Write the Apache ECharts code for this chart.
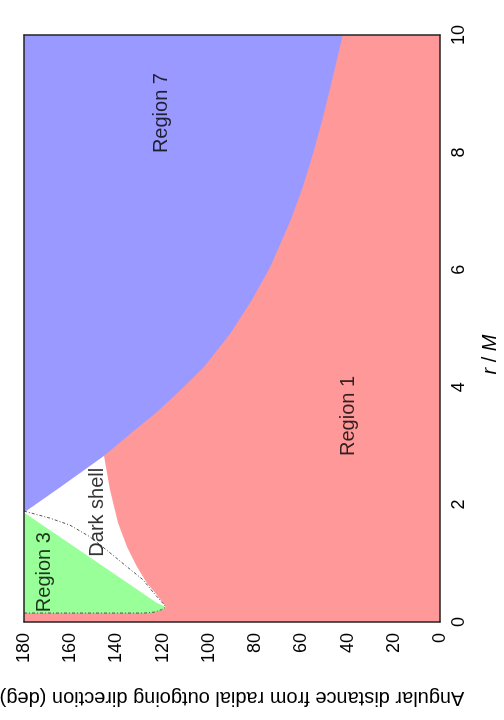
<!DOCTYPE html>
<html>
<head>
<meta charset="utf-8">
<script src="https://cdn.jsdelivr.net/npm/echarts@6/dist/echarts.min.js"></script>
<style>
html,body{margin:0;padding:0;background:#fff;overflow:hidden;width:504px;height:720px;}
#chart{position:absolute;left:-108px;top:108px;width:720px;height:504px;transform:rotate(-90deg);transform-origin:50% 50%;}
</style>
</head>
<body>
<div id="chart"></div>
<script>
// ---- data (x = r/M, y = angle in degrees) ----
const rTicks = [0, 2, 4, 6, 8, 10];
const angleTicks = [0, 20, 40, 60, 80, 100, 120, 140, 160, 180];

// Region 1 (red) upper boundary
const region1R = [0, 0.153, 0.153, 0.19, 0.22, 0.255, 0.32, 0.46, 0.66, 0.94, 1.28, 1.69, 2.25, 2.83, 3.22, 3.56, 3.95, 4.35, 4.92, 5.49, 6.05, 6.85, 7.42, 7.98, 8.55, 9.12, 10];
const region1A = [180, 180, 125.5, 121.2, 119.4, 118.6, 119.9, 122.5, 126.8, 131.1, 135.4, 139.3, 142.8, 145.4, 133.6, 123.0, 112.3, 102.0, 90.6, 81.4, 73.5, 64.6, 59.3, 55.0, 51.0, 47.4, 42.1];

// Region 3 (green) extent
const region3R = [0.153, 1.865];
const region3A = [180, 180];

// Region 7 (blue) extent
const region7R = [1.865, 10];
const region7A = [180, 180];

// Dark shell upper boundary (green edge then blue edge)
const shellR = [0.255, 0.324, 1.865, 2.3, 2.83];
const shellA = [118.6, 122.5, 180, 164.2, 145.4];

// dotted curves
const dotted1R = [1.89, 1.77, 1.65, 1.45, 1.18, 0.94, 0.72, 0.51, 0.32, 0.255];
const dotted1A = [180, 168.8, 160.1, 151.4, 142.8, 135.4, 128.5, 124.2, 119.9, 118.6];
const dotted2R = [0.153, 0.153, 0.17, 0.21, 0.255];
const dotted2A = [180, 128, 123.5, 120.5, 118.6];

// region labels
const labelNames = ['Region 7', 'Region 1', 'Region 3', 'Dark shell'];
const labelR = [8.67, 3.51, 0.85, 1.87];
const labelA = [120.3, 39.8, 171.0, 148];

const zip = (a, b) => a.map((v, i) => [v, b[i]]);

const FONT = '"Liberation Sans", Arial, Helvetica, sans-serif';
const chart = echarts.init(document.getElementById('chart'), null, {renderer: 'canvas'});

function area(data, color, z) {
  return {type: 'line', data: data, symbol: 'none', showSymbol: false, silent: true, z: z,
    lineStyle: {width: 0, color: color, opacity: 0}, areaStyle: {color: color, opacity: 1, origin: 'start'}};
}
function dotted(data) {
  return {type: 'line', data: data, symbol: 'none', showSymbol: false, silent: true, z: 6,
    lineStyle: {width: 1, color: '#555', type: [3, 2, 1, 2]}};
}

const frame = {show: true, onZero: false, lineStyle: {color: '#222', width: 1.5}};

chart.setOption({
  animation: false,
  backgroundColor: '#fff',
  textStyle: {fontFamily: FONT},
  grid: {left: 98, right: 35, top: 24, bottom: 64, containLabel: false, outerBoundsMode: 'none'},
  xAxis: [{
    type: 'value', min: 0, max: 10, interval: 2, position: 'bottom', zlevel: 1,
    axisLine: frame, axisTick: {show: false}, splitLine: {show: false},
    axisLabel: {fontSize: 18, color: '#000', margin: 10, fontFamily: FONT,
      formatter: v => rTicks.includes(v) ? String(v) : ''},
    name: '{i|r} / {i|M}', nameLocation: 'middle', nameGap: 40,
    nameTextStyle: {fontSize: 20, color: '#000', fontFamily: FONT, padding: [0, 52, 0, 0],
      rich: {i: {fontStyle: 'italic', fontSize: 20, color: '#000', fontFamily: FONT}}}
  }, {
    type: 'value', min: 0, max: 10, position: 'top', zlevel: 1,
    axisLine: frame, axisTick: {show: false}, axisLabel: {show: false}, splitLine: {show: false}
  }],
  yAxis: [{
    type: 'value', min: 0, max: 180, interval: 20, position: 'left', zlevel: 1,
    axisLine: frame, axisTick: {show: false}, splitLine: {show: false},
    axisLabel: {fontSize: 18, color: '#000', margin: 11, fontFamily: FONT,
      formatter: v => angleTicks.includes(v) ? String(v) : ''},
    name: 'Angular distance from radial outgoing direction (deg)', nameLocation: 'middle', nameGap: 66,
    nameTextStyle: {fontSize: 20, color: '#000', fontFamily: FONT}
  }, {
    type: 'value', min: 0, max: 180, position: 'right', zlevel: 1,
    axisLine: frame, axisTick: {show: false}, axisLabel: {show: false}, splitLine: {show: false}
  }],
  series: [
    area(zip(region7R, region7A), '#9999FF', 2),
    area(zip(region3R, region3A), '#99FF99', 3),
    area(zip(shellR, shellA), '#FFFFFF', 4),
    area(zip(region1R, region1A), '#FF9999', 5),
    dotted(zip(dotted1R, dotted1A)),
    dotted(zip(dotted2R, dotted2A)),
    {
      type: 'scatter', z: 8, silent: true, symbolSize: 1,
      itemStyle: {color: 'rgba(0,0,0,0)'},
      data: labelNames.map((n, i) => ({name: n, value: [labelR[i], labelA[i]]})),
      label: {show: true, position: 'inside', formatter: p => p.name,
        fontSize: 20, color: '#000', fontFamily: FONT}
    }
  ]
});
</script>
</body>
</html>
